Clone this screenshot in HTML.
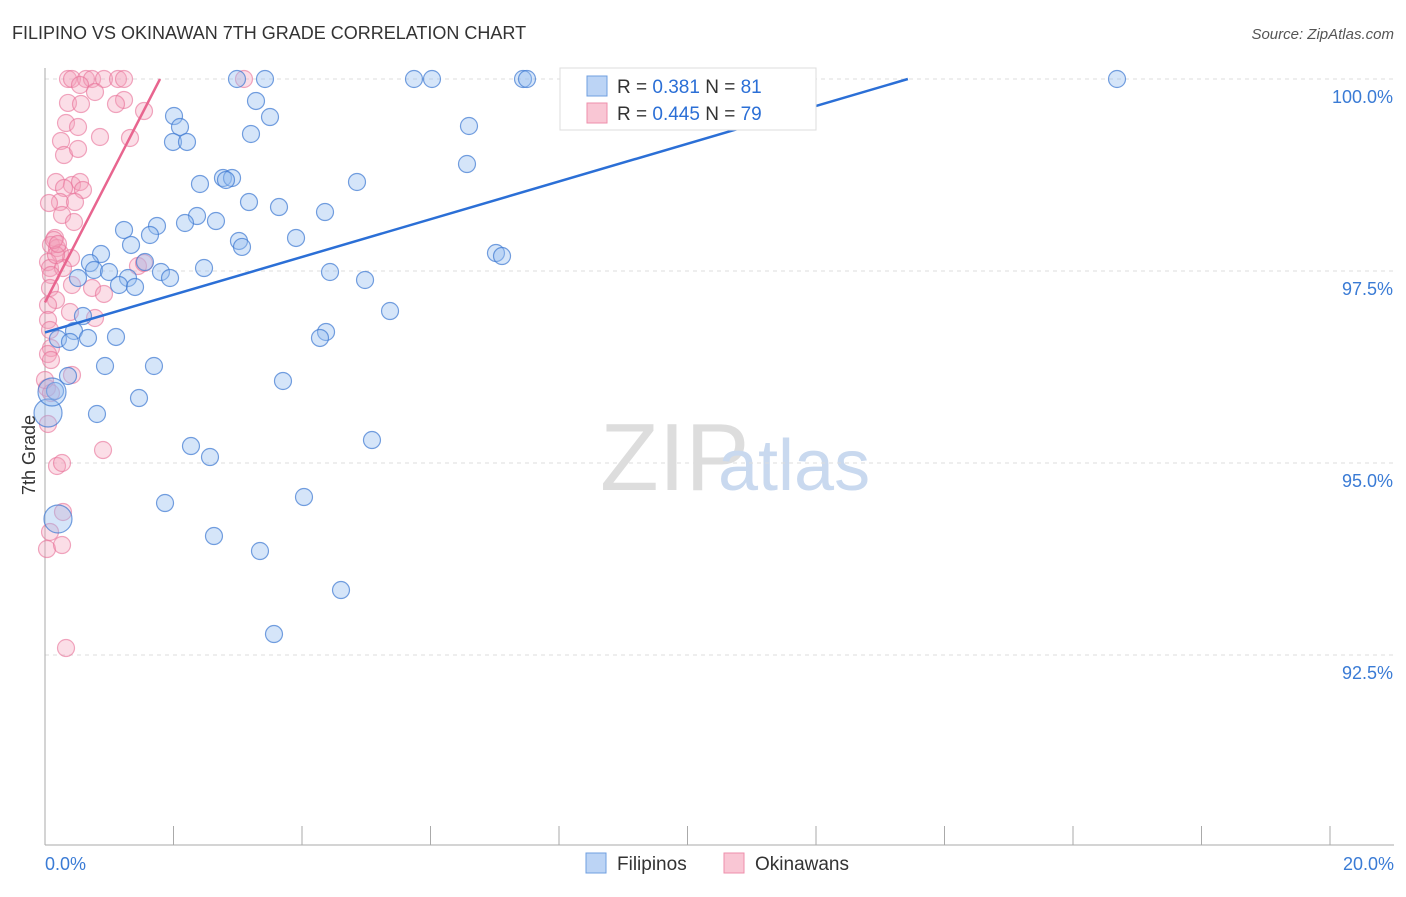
<!DOCTYPE html>
<html><head><meta charset="utf-8"><style>
body{margin:0;background:#fff;font-family:"Liberation Sans",sans-serif;}
svg text{font-family:"Liberation Sans",sans-serif;}
</style></head><body>
<svg id="chart" width="1406" height="892" xmlns="http://www.w3.org/2000/svg">
<text x="12" y="39" font-size="18" fill="#333">FILIPINO VS OKINAWAN 7TH GRADE CORRELATION CHART</text>
<text x="1394" y="39" font-size="15" fill="#555" text-anchor="end" font-style="italic">Source: ZipAtlas.com</text>
<text x="600" y="490" font-size="96" fill="#ddd" font-family="Liberation Serif">ZIP</text>
<text x="718" y="490" font-size="72" fill="#c9d9ef">atlas</text>
<g id="grid"></g>
<line x1="45" y1="68" x2="45" y2="845" stroke="#aaa"/>
<line x1="45" y1="845" x2="1394" y2="845" stroke="#aaa"/>
<g id="pts"></g>
<g id="trends"></g>
<text x="35" y="455" font-size="18" fill="#333" transform="rotate(-90 35 455)" text-anchor="middle">7th Grade</text>
<text x="45" y="870" font-size="18" fill="#3a7bd5">0.0%</text>
<text x="1394" y="870" font-size="18" fill="#3a7bd5" text-anchor="end">20.0%</text>
<g>
<rect x="560" y="68" width="256" height="62" fill="#fff" stroke="#ddd"/>
<rect x="587" y="76" width="20" height="20" fill="#bcd4f5" stroke="#6f9fe0"/>
<text x="617" y="93" font-size="19" fill="#333">R = <tspan fill="#2b6fd6"> 0.381</tspan>   N = <tspan fill="#2b6fd6"> 81</tspan></text>
<rect x="587" y="103" width="20" height="20" fill="#f9c6d4" stroke="#ee8fab"/>
<text x="617" y="120" font-size="19" fill="#333">R = <tspan fill="#2b6fd6">0.445</tspan>   N = <tspan fill="#2b6fd6">79</tspan></text>
</g>
<g>
<rect x="586" y="853" width="20" height="20" fill="#bcd4f5" stroke="#6f9fe0"/>
<text x="617" y="870" font-size="19" fill="#333">Filipinos</text>
<rect x="724" y="853" width="20" height="20" fill="#f9c6d4" stroke="#ee8fab"/>
<text x="755" y="870" font-size="19" fill="#333">Okinawans</text>
</g>
</svg>
<script>
const yTicks=[100,97.5,95,92.5];
const yTickLabels=["100.0%","97.5%","95.0%","92.5%"];
const xTicks=[0,2,4,6,8,10,12,14,16,18,20];
const bluePx=[[237,79],[265,79],[414,79],[432,79],[523,79],[527,79],[1117,79],[800,79],[174,116],[180,127],[256,101],[270,117],[173,142],[187,142],[251,134],[469,126],[467,164],[200,184],[223,178],[232,178],[226,180],[357,182],[249,202],[279,207],[325,212],[197,216],[216,221],[185,223],[157,226],[124,230],[150,235],[131,245],[101,254],[239,241],[242,247],[296,238],[496,253],[502,256],[145,262],[90,263],[94,270],[109,272],[161,272],[170,278],[204,268],[330,272],[365,280],[128,278],[119,285],[135,287],[78,278],[390,311],[83,316],[74,331],[58,339],[70,342],[116,337],[88,338],[326,332],[320,338],[105,366],[154,366],[68,376],[283,381],[55,391],[139,398],[97,414],[191,446],[372,440],[210,457],[304,497],[165,503],[214,536],[260,551],[341,590],[274,634]];
const blueBig=[[48,413],[58,519],[52,392]];
const pinkPx=[[68,79],[72,79],[86,79],[92,79],[104,79],[118,79],[124,79],[244,79],[80,85],[95,92],[68,103],[81,104],[124,100],[116,104],[144,111],[66,123],[78,127],[100,137],[130,138],[61,141],[64,155],[78,149],[56,182],[72,185],[80,182],[64,188],[83,190],[60,202],[75,202],[49,203],[62,215],[74,222],[55,238],[51,245],[57,248],[60,253],[71,258],[48,262],[50,268],[63,268],[51,275],[72,285],[50,288],[92,288],[104,294],[56,300],[48,305],[138,266],[144,263],[70,312],[95,318],[51,348],[48,354],[51,360],[72,375],[47,388],[51,393],[48,424],[103,450],[57,466],[62,463],[63,512],[50,532],[47,549],[62,545],[66,648],[56,255],[54,240],[58,244],[48,320],[50,330],[45,380]];
// convert read pixels to data values (percent)
const toX=p=>+((p-45)/1285*20).toFixed(3), toY=p=>+(100-(p-79)/192*2.5).toFixed(3);
const blueX=bluePx.map(p=>toX(p[0])), blueY=bluePx.map(p=>toY(p[1]));
const blueBigX=blueBig.map(p=>toX(p[0])), blueBigY=blueBig.map(p=>toY(p[1]));
const pinkX=pinkPx.map(p=>toX(p[0])), pinkY=pinkPx.map(p=>toY(p[1]));
const blueTrend=[[0,96.70],[13.43,100]];
const pinkTrend=[[0,97.09],[1.79,100]];
const sx=v=>45+v/20*1285, sy=v=>79+(100-v)/2.5*192;
const NS="http://www.w3.org/2000/svg";
const grid=document.getElementById('grid');
yTicks.forEach((t,i)=>{
 const l=document.createElementNS(NS,'line');
 l.setAttribute('x1',45);l.setAttribute('x2',1394);l.setAttribute('y1',sy(t));l.setAttribute('y2',sy(t));
 l.setAttribute('stroke','#ddd');l.setAttribute('stroke-dasharray','4,4');
 
 
 grid.appendChild(l);
 const tx=document.createElementNS(NS,'text');
 tx.setAttribute('x',1393);tx.setAttribute('y',sy(t)+24);tx.setAttribute('text-anchor','end');
 tx.setAttribute('font-size','18');tx.setAttribute('fill','#3a7bd5');tx.textContent=yTickLabels[i];
 
 
 grid.appendChild(tx);
});
xTicks.forEach(t=>{
 const l=document.createElementNS(NS,'line');
 l.setAttribute('x1',sx(t));l.setAttribute('x2',sx(t));l.setAttribute('y1',826);l.setAttribute('y2',845);
 l.setAttribute('stroke','#aaa');
 
 
 grid.appendChild(l);
});
const pts=document.getElementById('pts');
function dot(x,y,r,fill,stroke,name){
 const c=document.createElementNS(NS,'circle');
 c.setAttribute('cx',sx(x));c.setAttribute('cy',sy(y));c.setAttribute('r',r);
 c.setAttribute('fill',fill);c.setAttribute('stroke',stroke);c.setAttribute('stroke-width','1.2');
 
 
 pts.appendChild(c);
}
pinkX.forEach((x,i)=>dot(x,pinkY[i],8.5,'rgba(244,160,185,0.35)','rgba(232,110,150,0.6)','okinawan-point'));
blueX.forEach((x,i)=>dot(x,blueY[i],8.5,'rgba(150,190,240,0.4)','rgba(60,120,210,0.7)','filipino-point'));
blueBigX.forEach((x,i)=>dot(x,blueBigY[i],14,'rgba(150,190,240,0.4)','rgba(60,120,210,0.7)','filipino-point'));
const tr=document.getElementById('trends');
function tline(d,col,name){
 const l=document.createElementNS(NS,'line');
 l.setAttribute('x1',sx(d[0][0]));l.setAttribute('y1',sy(d[0][1]));l.setAttribute('x2',sx(d[1][0]));l.setAttribute('y2',sy(d[1][1]));
 l.setAttribute('stroke',col);l.setAttribute('stroke-width','2.5');
 
 
 tr.appendChild(l);
}
tline(blueTrend,'#2b6fd6','filipino-trend-line');
tline(pinkTrend,'#e8658f','okinawan-trend-line');
</script>
</body></html>
